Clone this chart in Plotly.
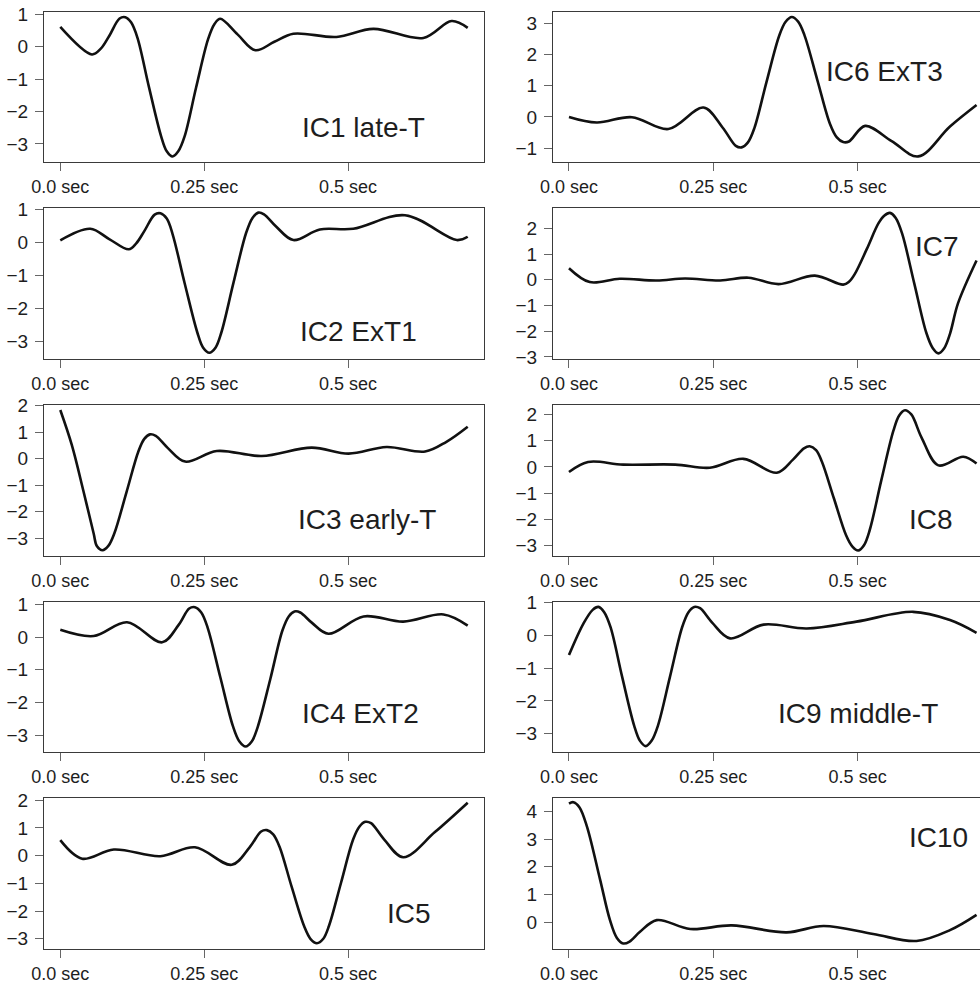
import plotly.graph_objects as go

# ---------------------------------------------------------------
# Independent-component time courses (seconds vs. amplitude)
# ---------------------------------------------------------------
names = ["IC1 late-T", "IC2 ExT1", "IC3 early-T", "IC4 ExT2", "IC5",
         "IC6 ExT3", "IC7", "IC8", "IC9 middle-T", "IC10"]

ic1_t = [0, 0.055, 0.070, 0.085, 0.103, 0.113, 0.123, 0.134, 0.154, 0.175, 0.185, 0.195, 0.205,
         0.216, 0.236, 0.257, 0.268, 0.278, 0.308, 0.339, 0.372, 0.405, 0.480, 0.544, 0.631,
         0.680, 0.708]
ic1_v = [0.61, -0.24, -0.07, 0.33, 0.87, 0.91, 0.75, 0.28, -1.24, -2.75, -3.23, -3.39, -3.23,
         -2.77, -1.26, 0.24, 0.70, 0.86, 0.38, -0.11, 0.15, 0.40, 0.30, 0.55, 0.27,
         0.79, 0.58]

ic2_t = [0, 0.052, 0.085, 0.119, 0.132, 0.146, 0.164, 0.174, 0.185, 0.195, 0.216, 0.238, 0.248,
         0.259, 0.270, 0.280, 0.301, 0.323, 0.334, 0.344, 0.354, 0.375, 0.405, 0.451, 0.509,
         0.599, 0.689, 0.708]
ic2_v = [0.07, 0.42, 0.11, -0.20, -0.02, 0.35, 0.85, 0.89, 0.73, 0.27, -1.22, -2.71, -3.17,
         -3.33, -3.17, -2.71, -1.21, 0.30, 0.75, 0.91, 0.86, 0.49, 0.08, 0.40, 0.42,
         0.83, 0.08, 0.18]

ic3_t = [0, 0.020, 0.0405, 0.058, 0.0635, 0.0735, 0.0835, 0.094, 0.115, 0.136, 0.146, 0.156,
         0.166, 0.187, 0.217, 0.272, 0.350, 0.437, 0.501, 0.567, 0.634, 0.671, 0.708]
ic3_v = [1.84, 0.52, -1.25, -2.83, -3.30, -3.46, -3.30, -2.82, -1.27, 0.29, 0.75, 0.92,
         0.86, 0.40, -0.11, 0.29, 0.10, 0.42, 0.19, 0.44, 0.27, 0.64, 1.21]

ic4_t = [0, 0.058, 0.116, 0.177, 0.206, 0.224, 0.234, 0.245, 0.256, 0.278, 0.300, 0.311, 0.322,
         0.333, 0.343, 0.365, 0.386, 0.397, 0.407, 0.417, 0.437, 0.466, 0.527, 0.596, 0.666, 0.708]
ic4_v = [0.22, 0.03, 0.45, -0.16, 0.38, 0.87, 0.91, 0.75, 0.29, -1.22, -2.72, -3.18, -3.34,
         -3.18, -2.75, -1.28, 0.20, 0.63, 0.78, 0.75, 0.44, 0.10, 0.63, 0.47, 0.69, 0.35]

ic5_t = [0, 0.038, 0.093, 0.174, 0.234, 0.298, 0.329, 0.349, 0.359, 0.370, 0.381, 0.402, 0.424,
         0.435, 0.446, 0.457, 0.467, 0.488, 0.509, 0.520, 0.530, 0.540, 0.563, 0.596, 0.651, 0.708]
ic5_v = [0.56, -0.11, 0.22, -0.02, 0.30, -0.33, 0.30, 0.87, 0.92, 0.77, 0.32, -1.12, -2.56,
         -3.01, -3.16, -3.00, -2.53, -0.97, 0.59, 1.05, 1.22, 1.17, 0.58, -0.06, 0.85, 1.91]

ic6_t = [0, 0.048, 0.109, 0.172, 0.233, 0.266, 0.289, 0.299, 0.310, 0.321, 0.342, 0.364, 0.375,
         0.386, 0.397, 0.408, 0.430, 0.452, 0.464, 0.475, 0.485, 0.513, 0.559, 0.605, 0.660, 0.706]
ic6_v = [0.00, -0.18, -0.01, -0.39, 0.30, -0.34, -0.93, -0.98, -0.82, -0.37, 1.11, 2.60, 3.05,
         3.21, 3.06, 2.62, 1.20, -0.22, -0.66, -0.81, -0.79, -0.29, -0.78, -1.27, -0.31, 0.38]

ic7_t = [0, 0.036, 0.088, 0.152, 0.201, 0.262, 0.311, 0.363, 0.426, 0.475, 0.485, 0.495, 0.516,
         0.536, 0.546, 0.556, 0.566, 0.577, 0.598, 0.619, 0.630, 0.640, 0.650, 0.660, 0.674, 0.706]
ic7_v = [0.45, -0.09, 0.04, -0.03, 0.05, -0.03, 0.08, -0.17, 0.16, -0.19, -0.08, 0.22, 1.20,
         2.19, 2.49, 2.60, 2.40, 1.80, -0.13, -2.06, -2.65, -2.86, -2.66, -2.10, -0.91, 0.75]

ic8_t = [0, 0.033, 0.094, 0.184, 0.244, 0.302, 0.360, 0.388, 0.407, 0.417, 0.428, 0.438, 0.459,
         0.480, 0.491, 0.501, 0.511, 0.521, 0.541, 0.562, 0.572, 0.582, 0.593, 0.611, 0.640,
         0.683, 0.706]
ic8_v = [-0.19, 0.19, 0.09, 0.09, -0.03, 0.31, -0.22, 0.28, 0.71, 0.79, 0.64, 0.21, -1.20,
         -2.60, -3.03, -3.18, -2.98, -2.40, -0.51, 1.38, 1.96, 2.16, 2.00, 1.11, 0.06,
         0.39, 0.13]

ic9_t = [0, 0.025, 0.041, 0.051, 0.061, 0.072, 0.092, 0.113, 0.123, 0.133, 0.143, 0.154, 0.175,
         0.196, 0.207, 0.217, 0.227, 0.248, 0.279, 0.337, 0.412, 0.498, 0.596, 0.660, 0.706]
ic9_v = [-0.60, 0.36, 0.78, 0.87, 0.71, 0.25, -1.26, -2.76, -3.22, -3.38, -3.22, -2.76, -1.26,
         0.25, 0.71, 0.87, 0.83, 0.39, -0.09, 0.33, 0.21, 0.42, 0.72, 0.47, 0.08]

ic10_t = [0, 0.0075, 0.018, 0.031, 0.054, 0.071, 0.083, 0.094, 0.105, 0.123, 0.152, 0.210,
          0.282, 0.377, 0.441, 0.527, 0.602, 0.660, 0.706]
ic10_v = [4.28, 4.33, 4.15, 3.46, 1.53, 0.08, -0.56, -0.76, -0.69, -0.34, 0.08, -0.24,
          -0.11, -0.36, -0.13, -0.42, -0.67, -0.28, 0.27]

series_t = [ic1_t, ic2_t, ic3_t, ic4_t, ic5_t, ic6_t, ic7_t, ic8_t, ic9_t, ic10_t]
series_v = [ic1_v, ic2_v, ic3_v, ic4_v, ic5_v, ic6_v, ic7_v, ic8_v, ic9_v, ic10_v]

# y tick values shown on each panel
y_ticks = [
    [-3, -2, -1, 0, 1],
    [-3, -2, -1, 0, 1],
    [-3, -2, -1, 0, 1, 2],
    [-3, -2, -1, 0, 1],
    [-3, -2, -1, 0, 1, 2],
    [-1, 0, 1, 2, 3],
    [-3, -2, -1, 0, 1, 2],
    [-3, -2, -1, 0, 1, 2],
    [-3, -2, -1, 0, 1],
    [0, 1, 2, 3, 4],
]
x_tick_vals = [0, 0.25, 0.5]
x_tick_text = ["0.0 sec", "0.25 sec", "0.5 sec"]

# ---------------------------------------------------------------
# Layout geometry (pixels)
# ---------------------------------------------------------------
W, H = 980, 983
col_box = [(44, 484), (553, 980)]
col_xrange = [(-0.0283, 0.7363), (-0.0277, 0.712)]
row_box = [(12, 162), (208, 359), (405, 556), (602, 752), (798, 949)]
y_ranges = [(-3.56, 1.07), (-3.52, 1.05), (-3.68, 2.03), (-3.51, 1.07), (-3.37, 2.08),
            (-1.45, 3.37), (-3.08, 2.79), (-3.39, 2.36), (-3.56, 1.02), (-0.96, 4.48)]
label_pos = [(363, 127), (358, 331), (367, 519), (360, 713), (409, 913),
             (884, 71), (937, 246), (931, 519), (858, 713), (938, 837)]

FONT = "Liberation Sans, Arial, Helvetica, sans-serif"
TXT = "#1e1e1e"
LINE = "#3a3a3a"

fig = go.Figure()
layout = dict(
    template="none",
    width=W, height=H,
    margin=dict(l=0, r=0, t=0, b=0, pad=0),
    paper_bgcolor="white", plot_bgcolor="white",
    showlegend=False,
    hovermode=False,
    font=dict(family=FONT, color=TXT, size=18),
    annotations=[],
)

for i in range(10):
    col, row = i // 5, i % 5
    k = i + 1
    xs = "" if k == 1 else str(k)
    fig.add_trace(go.Scatter(
        x=series_t[i], y=series_v[i], mode="lines",
        line=dict(color="#111111", width=2.6, shape="spline", smoothing=1.0),
        xaxis="x" + xs, yaxis="y" + xs, hoverinfo="skip",
    ))
    l, r = col_box[col]
    t, b = row_box[row]
    layout["xaxis" + xs] = dict(
        domain=[l / W, r / W], range=list(col_xrange[col]), anchor="y" + xs,
        automargin=False,
        showline=True, mirror=True, linecolor=LINE, linewidth=1.2,
        ticks="outside", ticklen=8, tickwidth=1, tickcolor="#666",
        tickvals=x_tick_vals, ticktext=x_tick_text,
        tickfont=dict(size=18, family=FONT, color=TXT),
        showgrid=False, zeroline=False, fixedrange=True,
    )
    layout["yaxis" + xs] = dict(
        domain=[1 - b / H, 1 - t / H], range=list(y_ranges[i]), anchor="x" + xs,
        automargin=False,
        showline=True, mirror=(col == 0), linecolor=LINE, linewidth=1.2,
        ticks="outside", ticklen=8, tickwidth=1, tickcolor="#666",
        tickvals=y_ticks[i], ticklabelstandoff=3,
        tickfont=dict(size=19, family=FONT, color=TXT),
        showgrid=False, zeroline=False, fixedrange=True,
    )
    cx, cy = label_pos[i]
    layout["annotations"].append(dict(
        text=names[i], x=cx / W, y=1 - cy / H, xref="paper", yref="paper",
        xanchor="center", yanchor="middle", showarrow=False,
        font=dict(size=28, family=FONT, color=TXT),
    ))

fig.update_layout(**layout)
fig.write_html("out.html")
